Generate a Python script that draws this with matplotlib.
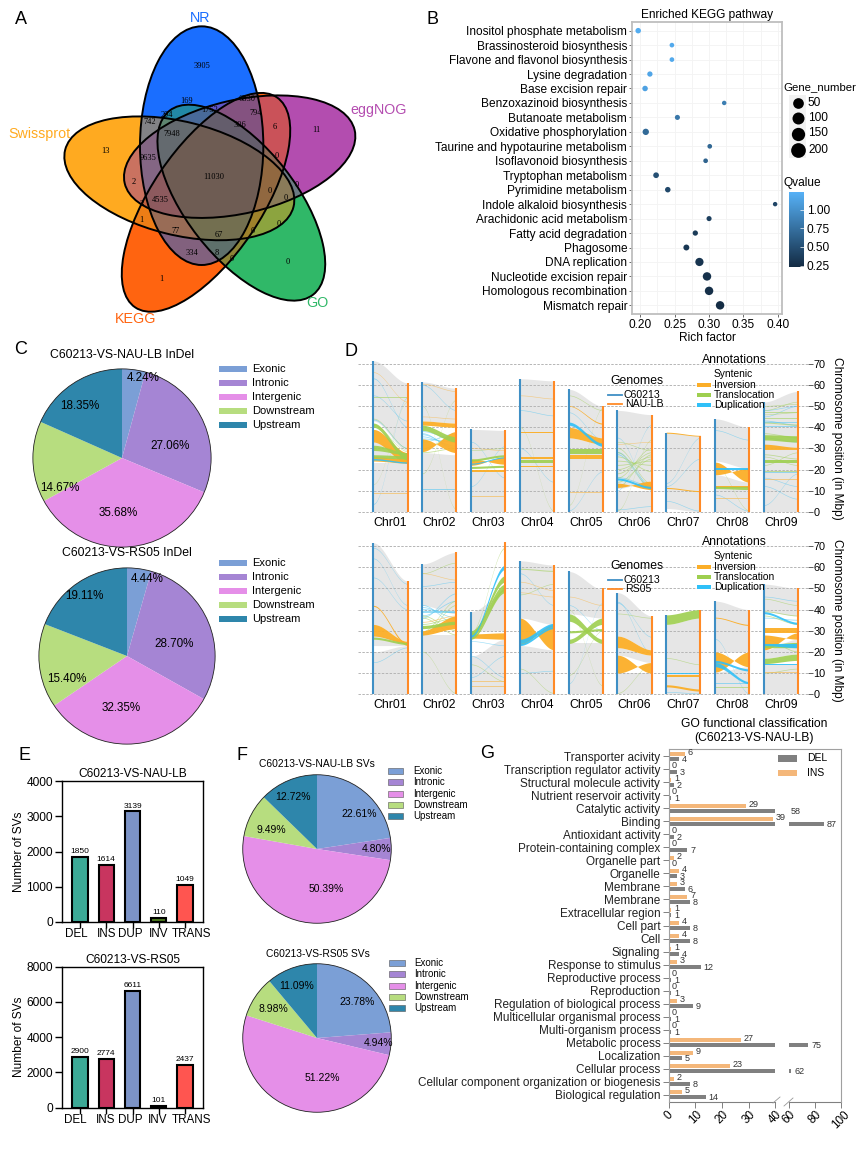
import numpy as np
import matplotlib
matplotlib.use('Agg')
from matplotlib import pyplot as plt
from matplotlib.colors import LinearSegmentedColormap, Normalize, to_rgb
from matplotlib.cm import ScalarMappable
from matplotlib.patches import Ellipse, Rectangle

plt.rcParams['font.family'] = ['Liberation Sans', 'DejaVu Sans']

W, H = 867, 1149

# panel A
venn_sets = ['NR', 'eggNOG', 'GO', 'KEGG', 'Swissprot']
venn_colors = ['#1A6EFF', '#B44DB0', '#30B868', '#FF6410', '#FFAA20']
venn_shape = [(605, 437, 358, 185, 90), (719, 470, 354, 170, -13), (724, 608, 350, 165, 52),
              (618, 607, 380, 165, -56), (538, 535, 353, 170, 14)]
venn_name_xy = [(200, 18), (379, 110), (317, 303), (136, 319), (39, 134)]
venn_counts = [3905, 6830, 11, 169, 1752, 794, 294, 742, 6, 306, 7948, 13, 0, 9635, 11030, 2, 0, 0, 0,
               4535, 3, 1, 0, 77, 0, 67, 334, 8, 0, 0, 1]
venn_count_xy = [(605, 197), (740, 296), (948, 390), (561, 302), (630, 330), (767, 338), (500, 346),
                 (449, 365), (824, 380), (720, 376), (516, 401), (315, 454), (830, 467), (446, 474),
                 (640, 531), (400, 546), (889, 555), (809, 573), (857, 593), (480, 601), (425, 611),
                 (425, 660), (835, 671), (527, 694), (759, 694), (655, 706), (577, 759), (651, 759),
                 (695, 778), (864, 786), (485, 838)]

# panel B
pathways = ['Inositol phosphate metabolism', 'Brassinosteroid biosynthesis', 'Flavone and flavonol biosynthesis',
            'Lysine degradation', 'Base excision repair', 'Benzoxazinoid biosynthesis', 'Butanoate metabolism',
            'Oxidative phosphorylation', 'Taurine and hypotaurine metabolism', 'Isoflavonoid biosynthesis',
            'Tryptophan metabolism', 'Pyrimidine metabolism', 'Indole alkaloid biosynthesis',
            'Arachidonic acid metabolism', 'Fatty acid degradation', 'Phagosome', 'DNA replication',
            'Nucleotide excision repair', 'Homologous recombination', 'Mismatch repair']
rich_factor = [.197, .246, .246, .214, .207, .322, .254, .208, .301, .295, .223, .240, .396, .300, .280, .267,
               .286, .297, .300, .316]
gene_number = [55, 35, 35, 50, 55, 30, 45, 75, 35, 35, 60, 55, 30, 45, 50, 65, 120, 125, 125, 125]
qvalue = [1.2, 1.18, 1.18, 1.15, 1.12, .85, .8, .7, .68, .65, .5, .45, .43, .38, .35, .32, .3, .28, .26, .24]
gene_legend = [50, 100, 150, 200]

# pies, panels C and F
regions = ['Exonic', 'Intronic', 'Intergenic', 'Downstream', 'Upstream']
region_colors = ['#7B9FD6', '#A585D4', '#E58FE8', '#B7DD7F', '#2E86AB']
indel_nau = [4.24, 27.06, 35.68, 14.67, 18.35]
indel_rs05 = [4.44, 28.70, 32.35, 15.40, 19.11]
sv_nau = [22.61, 4.80, 50.39, 9.49, 12.72]
sv_rs05 = [23.78, 4.94, 51.22, 8.98, 11.09]

# panel D, ribbons are (chromosome, left start, left end, right start, right end) in Mbp
chroms = ['Chr01', 'Chr02', 'Chr03', 'Chr04', 'Chr05', 'Chr06', 'Chr07', 'Chr08', 'Chr09']
len_c60213 = [71.5, 61.5, 39, 63, 58, 48, 37.5, 44, 52]
len_nau = [61, 58.5, 38.5, 62, 50, 46, 36, 40, 57]
len_rs05 = [53.5, 67, 72, 61, 50, 37, 40, 40, 50]

syn_nau = [(0, 0, 23, 0, 23), (0, 25, 33, 23, 28), (0, 43, 71.5, 29, 61), (1, 0, 28, 0, 27), (1, 43, 61.5, 42, 58.5),
           (2, 0, 20, 0, 19), (2, 25, 39, 26, 38.5), (3, 0, 63, 0, 62), (4, 0, 25, 0, 25), (4, 27, 35, 27, 32),
           (4, 40, 58, 35, 50), (5, 0, 10, 0, 10), (5, 11, 48, 14.5, 46), (6, 1.5, 37.5, 0, 36),
           (7, 0, 17.5, 0, 14), (7, 24, 44, 20.5, 40), (8, 0, 52, 0, 57)]
inv_nau = [(0, 33, 39, 23, 28), (0, 24, 26, 23, 25), (1, 28.5, 34.5, 38, 28), (1, 41, 43, 40, 42),
           (2, 22, 25, 26, 22.5), (2, 19, 20, 19, 20), (3, 25, 26, 25, 26), (3, 37.4, 37.8, 37.4, 37.8),
           (3, 21, 21.5, 21, 21.5), (4, 35, 40, 32, 35), (4, 50, 50.3, 41.5, 42), (4, 25, 27, 25, 27),
           (5, 11.5, 13.5, 14.5, 10.5), (6, 11, 11.5, 9.5, 10), (6, 37.2, 37.7, 35.8, 36.2),
           (7, 17.5, 23.5, 20.5, 14), (7, 11, 12, 11, 12), (7, 2, 2.3, 2, 2.3), (8, 29.5, 32, 29.5, 30.5)]
trans_nau = [(0, 40, 42, 24.5, 27), (0, 29, 31.5, 27, 28), (0, 25.5, 27, 25, 26.5), (1, 38.5, 41, 33, 35.5),
             (2, 20.5, 21.5, 21, 22), (2, 24, 25, 26, 27), (3, 23, 24.5, 23, 24.5),
             (4, 27.5, 29.5, 27.5, 29.5), (7, 11, 12, 10.5, 12), (8, 34, 36.5, 33, 36),
             (8, 23, 24.5, 23, 24.5)]
dup_nau = [(0, 24.5, 25.2, 23, 23.6), (2, 22.5, 23, 25.5, 26), (4, 41, 42.5, 31, 32.5), (5, 15, 16, 11, 12),
           (7, 19.6, 20.5, 19.6, 20.5)]
thin_dup_nau = [(0, 3.5, 3.9, 54, 54.4), (0, 63, 63.4, 40, 40.4), (0, 55, 55.3, 43, 43.3), (0, 43.5, 43.9, 30, 30.4),
                (1, 60, 60.3, 48, 48.3), (1, 10.5, 10.8, 10.5, 10.8), (1, 37, 37.4, 29, 29.4), (1, 36.5, 36.9, 30, 30.4),
                (1, 35.5, 35.9, 31, 31.4), (1, 34.5, 34.9, 33, 33.4), (1, 38, 38.4, 34, 34.4), (1, 33, 33.4, 37, 37.4),
                (2, 33, 33.3, 16, 16.3), (2, 12, 12.3, 31, 31.3), (3, 48, 48.3, 45.5, 45.8), (3, 30, 30.3, 14, 14.3),
                (4, 0.5, 0.8, 19, 19.3), (4, 47, 47.3, 34, 34.3), (5, 35, 35.3, 10, 10.3), (5, 1, 1.3, 2.5, 2.8),
                (5, 10, 10.3, 41, 41.3), (5, 27, 27.5, 11, 11.5), (5, 28, 28.5, 12, 12.5), (5, 16.2, 16.6, 12.2, 12.6),
                (6, 13.5, 13.8, 35, 35.3), (6, 5, 5.3, 0.3, 0.6), (6, 12, 12.3, 25, 25.3), (7, 38.5, 38.8, 34, 34.3),
                (7, 8, 8.3, 0.3, 0.6), (8, 12, 12.3, 6, 6.3), (8, 3, 3.3, 18, 18.3), (8, 48, 48.3, 50, 50.3),
                (8, 40, 40.4, 40, 40.4), (8, 42, 42.4, 42, 42.4), (8, 43, 43.4, 41, 41.4), (8, 18.2, 18.7, 18.2, 18.7),
                (8, 45, 45.3, 50, 50.3), (8, 35, 35.4, 33, 33.4), (8, 16, 16.3, 12, 12.3)]
thin_trans_nau = [(0, 13, 13.2, 52, 52.2), (0, 54, 54.3, 54, 54.3), (0, 44, 44.3, 30, 30.3), (0, 41, 41.3, 28.5, 28.8),
                  (1, 18, 18.3, 53, 53.3), (1, 50, 50.3, 1, 1.3), (1, 30, 30.4, 36, 36.4), (1, 28, 28.4, 30, 30.4),
                  (2, 29, 29.3, 30, 30.3), (3, 40, 40.3, 0.3, 0.6), (4, 3, 3.3, 49, 49.3), (4, 55, 55.3, 48, 48.3),
                  (5, 0.5, 0.8, 34, 34.3), (5, 33, 33.3, 29, 29.3), (5, 16, 16.4, 30, 30.4), (5, 18, 18.4, 28, 28.4),
                  (5, 20, 20.4, 26, 26.4), (5, 22, 22.4, 24, 24.4), (5, 24, 24.4, 22, 22.4), (5, 26, 26.4, 19, 19.4),
                  (5, 14, 14.4, 25, 25.4), (5, 28, 28.4, 11, 11.4), (5, 30, 30.4, 13, 13.4), (5, 12, 12.4, 27, 27.4),
                  (7, 22, 22.3, 0.5, 0.8), (8, 47, 47.3, 47, 47.3), (8, 26, 26.3, 22, 22.3), (8, 22, 22.3, 28, 28.3),
                  (8, 42, 42.5, 41, 41.5), (8, 44, 44.4, 44, 44.4), (8, 46, 46.3, 47, 47.3), (8, 50, 50.3, 51, 51.3),
                  (8, 48, 48.3, 52, 52.3), (8, 37, 37.4, 35, 35.4), (8, 19, 19.4, 19, 19.4), (8, 27, 27.4, 25, 25.4)]
thin_inv_nau = [(0, 66, 66.3, 52, 52.3), (0, 8.5, 8.9, 8.5, 8.9), (1, 45, 45.3, 44, 44.3), (1, 60.5, 60.8, 57, 57.3),
                (2, 30, 30.3, 29, 29.3), (2, 7, 7.3, 7, 7.3), (3, 55, 55.3, 53.5, 53.8), (4, 9, 9.3, 9, 9.3),
                (5, 32, 32.3, 33, 33.3), (7, 6, 6.3, 6, 6.3), (8, 15, 15.3, 15, 15.3), (8, 5, 5.3, 5, 5.3)]

syn_rs05 = [(0, 0, 20, 0, 23), (0, 23, 28, 23, 25), (0, 33, 71.5, 25, 53.5), (1, 0, 28, 0, 28), (1, 42, 61.5, 38, 67),
            (2, 0, 18, 0, 26), (2, 30, 39, 30, 48), (3, 0, 23, 0, 21), (3, 36, 63, 33, 61), (4, 0, 24, 0, 24),
            (4, 38, 58, 36, 49.5), (5, 0, 10, 0, 10), (5, 27.5, 48, 21, 37), (5, 18.5, 22, 15, 18.5),
            (6, 0, 33, 0, 36), (7, 0, 10.5, 0, 13), (7, 20, 44, 20, 40), (8, 0, 14, 0, 14), (8, 39, 52, 37, 50),
            (8, 17, 21, 19, 26)]
inv_rs05 = [(0, 27.5, 33, 24, 25), (0, 41.5, 42, 23, 24), (1, 28, 30, 31, 37), (2, 26.5, 28.5, 26, 29),
            (3, 23.5, 36, 33, 21), (5, 22, 27.5, 18.5, 21), (5, 10, 18.5, 15, 10), (6, 3.5, 4.5, 1.5, 2.5),
            (6, 8, 9, 8, 9), (7, 10.5, 20, 20, 13), (7, 36, 36.4, 32.5, 33), (8, 21, 28, 29, 26),
            (8, 29, 31.5, 29, 31.5)]
trans_rs05 = [(0, 26, 27, 23.5, 24.5), (1, 31, 32.5, 33, 34.5), (2, 27, 30, 49, 52), (2, 26, 27, 48, 50),
              (2, 28, 29, 53, 56), (4, 34.5, 38, 24, 26), (4, 24, 26, 33, 36), (4, 29, 30, 30, 31),
              (6, 33, 37.5, 36, 40), (8, 14.5, 17, 16, 19), (8, 22, 23.5, 22, 24.5)]
dup_rs05 = [(2, 27, 28, 59, 61), (3, 24, 26, 32, 33.5), (3, 23, 24, 31, 32), (7, 13, 15, 5, 6), (7, 15, 16, 11, 12),
            (6, 9.5, 10, 9.5, 10), (8, 23, 24, 22, 24), (8, 14, 14.5, 14, 14.5), (8, 38, 39, 33, 34)]
thin_dup_rs05 = [(0, 69, 69.3, 52, 52.3), (0, 64, 64.3, 42, 42.3), (0, 55, 55.3, 40, 40.3), (0, 15, 15.3, 22, 22.3),
                 (1, 51, 51.3, 53, 53.3), (1, 40, 40.4, 38.5, 38.9), (1, 41, 41.4, 36, 36.4), (1, 39, 39.4, 39, 39.4),
                 (1, 42, 42.4, 33, 33.4), (1, 37, 37.4, 44, 44.4), (1, 36, 36.4, 47.5, 47.9), (1, 38.5, 38.9, 38.5, 38.9),
                 (2, 8, 8.3, 18, 18.3), (2, 18, 18.3, 8, 8.3), (2, 25, 25.3, 23, 23.3), (3, 57, 57.3, 42, 42.3),
                 (3, 10, 10.3, 11, 11.3), (4, 42, 42.3, 30, 30.3), (4, 5, 5.3, 43, 43.3), (5, 43, 43.3, 27, 27.3),
                 (5, 43.5, 43.9, 19, 19.4), (6, 1, 1.3, 0.3, 0.6), (7, 26, 26.3, 0.3, 0.6), (7, 5, 5.3, 5, 5.3),
                 (8, 46, 46.3, 44, 44.3), (8, 36, 36.4, 35, 35.4)]
thin_trans_rs05 = [(0, 8.5, 8.7, 8.5, 8.7), (1, 20, 20.3, 0.4, 0.7), (1, 57, 57.3, 62, 62.3), (1, 36, 36.4, 28, 28.4),
                   (1, 37, 37.4, 30, 30.4), (1, 28, 28.4, 42, 42.4), (1, 29.5, 29.9, 44, 44.4), (1, 33, 33.4, 36, 36.4),
                   (2, 14, 14.3, 6, 6.3), (2, 29, 29.5, 69, 69.5), (3, 12, 12.3, 0.5, 0.8), (3, 47, 47.3, 52, 52.3),
                   (3, 59, 59.5, 58, 58.5), (4, 40, 40.3, 4, 4.3), (4, 9, 9.3, 30, 30.3), (5, 0.5, 0.8, 14, 14.3),
                   (5, 38, 38.3, 36, 36.3), (6, 17, 17.3, 14, 14.3), (7, 3, 3.3, 3, 3.3), (8, 10, 10.3, 12, 12.3),
                   (8, 45, 45.3, 42, 42.3), (8, 37, 37.4, 33, 33.4), (8, 39, 39.4, 37, 37.4), (8, 26, 26.4, 20, 20.4)]
thin_inv_rs05 = [(1, 57, 57.3, 54, 54.3), (2, 6, 6.3, 6, 6.3), (2, 3.5, 3.8, 3.5, 3.8), (3, 48, 48.3, 46, 46.3),
                 (3, 53, 53.3, 49, 49.3), (4, 46, 46.3, 42, 42.3), (8, 10, 10.3, 10, 10.3), (1, 34, 34.4, 37, 37.4)]

# panel E
sv_types = ['DEL', 'INS', 'DUP', 'INV', 'TRANS']
sv_colors = ['#3CA996', '#C8355F', '#7C93C6', '#4D7A1E', '#FF5550']
sv_count_nau = [1850, 1614, 3139, 110, 1049]
sv_count_rs05 = [2900, 2774, 6611, 101, 2437]

# panel G
go_terms = ['Transporter acivity', 'Transcription regulator activity', 'Structural molecule activity',
            'Nutrient reservoir activity', 'Catalytic activity', 'Binding', 'Antioxidant activity',
            'Protein-containing complex', 'Organelle part', 'Organelle', 'Membrane', 'Membrane',
            'Extracellular region', 'Cell part', 'Cell', 'Signaling', 'Response to stimulus',
            'Reproductive process', 'Reproduction', 'Regulation of biological process',
            'Multicellular organismal process', 'Multi-organism process', 'Metabolic process', 'Localization',
            'Cellular process', 'Cellular component organization or biogenesis', 'Biological regulation']
go_ins = [6, 0, 1, 0, 29, 39, 0, 0, 2, 4, 3, 7, 1, 4, 4, 1, 3, 0, 0, 3, 0, 0, 27, 9, 23, 2, 5]
go_del = [4, 3, 2, 1, 58, 87, 2, 7, 0, 3, 6, 8, 1, 8, 8, 4, 12, 1, 1, 9, 1, 1, 75, 5, 62, 8, 14]
go_ticks = [0, 10, 20, 30, 40, 60, 80, 100]


def axpx(fig, left, top, right, bottom):
    return fig.add_axes([left / W, 1 - bottom / H, (right - left) / W, (bottom - top) / H])


fig = plt.figure(figsize=(W / 100, H / 100), dpi=100)
over = axpx(fig, 0, 0, W, H)
over.set_xlim(0, W)
over.set_ylim(H, 0)
over.axis('off')
over.set_zorder(10)
over.patch.set_alpha(0)

for letter, x, y in [('A', 21, 19), ('B', 433, 20), ('C', 21, 350), ('D', 351, 352), ('E', 24, 755),
                     ('F', 242, 755), ('G', 487, 754)]:
    over.text(x, y, letter, fontsize=13, ha='center', va='center')

# A: venn, each overlap gets the darkened mean of its sets
venn = axpx(fig, 0, 0, 420, 340)
gx, gy = np.meshgrid(np.arange(0, 420, 1 / 3), np.arange(0, 340, 1 / 3))
total = np.zeros(gx.shape + (3,))
count = np.zeros(gx.shape)
for (cx, cy, a, b, ang), c in zip(venn_shape, venn_colors):
    t = np.radians(ang)
    u = (gx - cx / 3) * np.cos(t) + (gy - cy / 3) * np.sin(t)
    v = -(gx - cx / 3) * np.sin(t) + (gy - cy / 3) * np.cos(t)
    inside = (u / (a / 3)) ** 2 + (v / (b / 3)) ** 2 <= 1
    total[inside] += to_rgb(c)
    count[inside] += 1
shade = np.ones(gx.shape + (3,))
hit = count > 0
shade[hit] = total[hit] / count[hit][:, None] * (1 - 0.07 * (count[hit][:, None] - 1))
venn.imshow(shade, extent=(0, 420, 340, 0), interpolation='antialiased', aspect='auto')
venn.set_xlim(0, 420)
venn.set_ylim(340, 0)
venn.axis('off')
for cx, cy, a, b, ang in venn_shape:
    venn.add_patch(Ellipse((cx / 3, cy / 3), 2 * a / 3, 2 * b / 3, angle=ang, fc='none', ec='k', lw=1.4))
for name, (x, y), c in zip(venn_sets, venn_name_xy, venn_colors):
    over.text(x, y, name, color=c, fontsize=10.3, ha='center', va='center')
for n, (x, y) in zip(venn_counts, venn_count_xy):
    venn.text(x / 3, y / 3, str(n), fontsize=6, ha='center', va='center', family='Liberation Serif')

# B: bubble plot
cmap = LinearSegmentedColormap.from_list('q', ['#132B43', '#56B1F7'])
qnorm = Normalize(0.23, 1.24)
axb = axpx(fig, 632, 22, 782, 314)
ypos = np.arange(len(pathways))
dot_px = 3.2 + 0.042 * np.array(gene_number)
axb.scatter(rich_factor, ypos, s=(dot_px * 0.72) ** 2, c=qvalue, cmap=cmap, norm=qnorm, linewidths=0, zorder=3)
axb.set_xlim(0.188, 0.406)
axb.set_ylim(len(pathways) - 0.4, -0.6)
axb.set_yticks(ypos)
axb.set_yticklabels(pathways, fontsize=8.6)
axb.set_xticks([0.2, 0.25, 0.3, 0.35, 0.4])
axb.set_xticklabels(['0.20', '0.25', '0.30', '0.35', '0.40'], fontsize=8.6)
axb.set_xticks([0.225, 0.275, 0.325, 0.375], minor=True)
axb.grid(True, which='both', color='#F3F3F3', lw=0.6)
axb.set_axisbelow(True)
axb.tick_params(which='minor', length=0)
axb.tick_params(length=2, pad=1.5, color='#555555', width=0.6)
axb.set_xlabel('Rich factor', fontsize=8.6, labelpad=1)
axb.set_title('Enriched KEGG pathway', fontsize=8.6, pad=3)
for s in axb.spines.values():
    s.set_color('#BEBEBE')
    s.set_linewidth(1.3)

over.text(783, 87, 'Gene_number', fontsize=8.2, va='center')
over.add_patch(Rectangle((789, 95), 17, 63, fc='#F2F2F2', ec='none'))
for g, y, d in zip(gene_legend, [102.5, 118, 133.5, 150], [10.7, 12, 13.3, 14.7]):
    over.scatter([797.5], [y], s=(d * 0.72) ** 2, c='k', linewidths=0)
    over.text(808, y, str(g), fontsize=8.6, va='center')
over.text(783, 183, 'Qvalue', fontsize=8.6, va='center')
cax = axpx(fig, 789, 192, 804, 267)
cb = fig.colorbar(ScalarMappable(qnorm, cmap), cax=cax)
cb.set_ticks([0.25, 0.5, 0.75, 1.0])
cb.set_ticklabels(['0.25', '0.50', '0.75', '1.00'], fontsize=8.6)
cb.outline.set_visible(False)
cax.tick_params(length=3, direction='in', color='white', width=0.5, pad=2)


# C and F: pies
def draw_pie(values, cx, cy, r, label_xy, size):
    ax = axpx(fig, cx - r, cy - r, cx + r, cy + r)
    ax.pie(values, colors=region_colors, startangle=90, counterclock=False, radius=1, wedgeprops={'linewidth': 0})
    ax.set_xlim(-1.01, 1.01)
    ax.set_ylim(-1.01, 1.01)
    ax.add_patch(plt.Circle((0, 0), 1, fc='none', ec='#222222', lw=0.6))
    for v, (x, y) in zip(values, label_xy):
        over.text(x, y, '%.2f%%' % v, fontsize=size, ha='center', va='center')


def region_legend(x0, x1, xt, rows, size, edge):
    for name, c, y in zip(regions, region_colors, rows):
        over.add_patch(Rectangle((x0, y - 3), x1 - x0, 6, fc=c, ec=edge, lw=0.4))
        over.text(xt, y, name, fontsize=size, va='center')


draw_pie(indel_nau, 122, 458, 90, [(143, 378), (170, 446), (118, 513), (60, 488), (80, 406)], 8.4)
draw_pie(indel_rs05, 127, 656, 89, [(147, 579), (174, 644), (121, 708), (67, 679), (84, 596)], 8.4)
over.text(122, 355, 'C60213-VS-NAU-LB InDel', fontsize=8.8, ha='center', va='center')
over.text(127, 553, 'C60213-VS-RS05 InDel', fontsize=8.8, ha='center', va='center')
region_legend(219, 247, 252, [369, 383, 397, 411, 425], 8, 'none')
region_legend(219, 247, 252, [563, 577, 591, 605, 619], 8, 'none')

draw_pie(sv_nau, 317, 849, 75, [(359, 814), (377, 849), (326, 889), (271, 830), (293, 797)], 7.5)
draw_pie(sv_rs05, 317, 1038, 75, [(357, 1002), (378, 1043), (322, 1078), (273, 1009), (297, 986)], 7.5)
over.text(317, 764, 'C60213-VS-NAU-LB SVs', fontsize=7.4, ha='center', va='center')
over.text(318, 954, 'C60213-VS-RS05 SVs', fontsize=7.4, ha='center', va='center')
region_legend(388, 403, 413, [771, 782, 794, 805, 816], 7, '#555555')
region_legend(389, 405, 414, [963, 974, 986, 997, 1008], 7, '#555555')

# D: synteny
PITCH, GAP = 48.8, 0.704
sig = np.linspace(0, 1, 40)
smooth = sig * sig * (3 - 2 * sig)


def ribbons(ax, items, color, alpha, z):
    for chrom, a0, a1, b0, b1 in items:
        xs = chrom + GAP * sig
        ax.fill_between(xs, a0 + (b0 - a0) * smooth, a1 + (b1 - a1) * smooth, color=color, alpha=alpha,
                        lw=0, zorder=z)


def synteny(top, y0, y70, right_len, syn, inv, trans, dup, thin_dup, thin_trans, thin_inv):
    mb_px = (y0 - y70) / 70.0
    ax = axpx(fig, 358, top, 808, y0 + 1)
    ax.set_xlim((358 - 373.3) / PITCH, (808 - 373.3) / PITCH)
    ax.set_ylim(-1 / mb_px, (y0 - top) / mb_px)
    ribbons(ax, syn, '#E6E6E6', 1, 1)
    ax.hlines(np.arange(0, 71, 10), ax.get_xlim()[0], ax.get_xlim()[1], color='#B5B5B5', lw=0.7,
              linestyles=(0, (2.5, 1.5)), zorder=2)
    ribbons(ax, thin_dup, '#5CC8F2', 0.6, 3)
    ribbons(ax, thin_trans, '#A9D26A', 0.65, 3)
    ribbons(ax, thin_inv, '#F8B84A', 0.6, 3)
    ribbons(ax, inv, '#FBAE28', 0.95, 4)
    ribbons(ax, trans, '#9ECF4F', 0.9, 5)
    ribbons(ax, dup, '#2FC0F8', 0.9, 6)
    for i in range(len(chroms)):
        ax.plot([i, i], [0, len_c60213[i]], color='#3F8FC5', lw=1.5, solid_capstyle='butt', zorder=7)
        ax.plot([i + GAP, i + GAP], [0, right_len[i]], color='#FF8A26', lw=1.5, solid_capstyle='butt', zorder=7)
    ax.set_xticks(np.arange(len(chroms)) + GAP / 2)
    ax.set_xticklabels(chroms, fontsize=8.8)
    ax.tick_params(axis='x', length=0, pad=3)
    ax.yaxis.tick_right()
    ax.set_yticks(np.arange(0, 71, 10))
    ax.tick_params(axis='y', labelsize=7.8, length=3.5, width=0.6, pad=0.5, color='#444444')
    for s in ax.spines.values():
        s.set_visible(False)
    ax.patch.set_alpha(0)
    return ax


synteny(355, 511.7, 364, len_nau, syn_nau, inv_nau, trans_nau, dup_nau, thin_dup_nau, thin_trans_nau, thin_inv_nau)
synteny(538, 694.3, 546, len_rs05, syn_rs05, inv_rs05, trans_rs05, dup_rs05, thin_dup_rs05, thin_trans_rs05,
        thin_inv_rs05)
over.text(837, 438, 'Chromosome position (in Mbp)', fontsize=8.6, rotation=-90, ha='center', va='center')
over.text(837, 620, 'Chromosome position (in Mbp)', fontsize=8.6, rotation=-90, ha='center', va='center')

for base, other, off, title_y in [(345, 'NAU-LB', 0, 15), (530, 'RS05', -3, 12)]:
    over.text(637, base + 36, 'Genomes', fontsize=8.8, ha='center', va='center')
    over.plot([608, 622], [base + 50, base + 50], color='#3F8FC5', lw=1.3)
    over.plot([608, 622], [base + 59, base + 59], color='#FF8A26', lw=1.3)
    over.text(624, base + 50, 'C60213', fontsize=7.6, va='center')
    over.text(625, base + 59, other, fontsize=7.6, va='center')
    over.text(734, base + title_y, 'Annotations', fontsize=8.8, ha='center', va='center')
    over.text(714, base + 29 + off, 'Syntenic', fontsize=7.4, va='center')
    for name, c, y in [('Inversion', '#FBAE28', 40), ('Translocation', '#9ECF4F', 50), ('Duplication', '#2FC0F8', 60)]:
        over.add_patch(Rectangle((697, base + y + off - 2.2), 14, 4.4, fc=c, ec='none'))
        over.text(714, base + y + off, name, fontsize=7.4, va='center')


# E: bars
def sv_bars(top, bottom, counts, ymax, title, ticks, label_x):
    ax = axpx(fig, 62, top, 203, bottom)
    x = np.arange(5)
    ax.bar(x, counts, width=0.58, color=sv_colors, edgecolor='k', linewidth=1.5)
    for xi, c in zip(x, counts):
        ax.text(xi, c + ymax * 0.012, str(c), fontsize=6, ha='center', va='bottom')
    ax.set_xlim(-0.68, 4.68)
    ax.set_ylim(0, ymax)
    ax.set_yticks(ticks)
    ax.set_xticks(x)
    ax.set_xticklabels([])
    ax.tick_params(labelsize=8.6, width=1, length=5, pad=1.5)
    ax.tick_params(axis='x', length=4)
    ax.set_ylabel('Number of SVs', fontsize=8.6, labelpad=1)
    ax.set_title(title, fontsize=8.6, pad=3)
    for s in ax.spines.values():
        s.set_linewidth(1)
    for name, lx in zip(sv_types, label_x):
        over.text(lx, bottom + 12, name, fontsize=8.4, ha='center', va='center')


sv_bars(781, 922, sv_count_nau, 4000, 'C60213-VS-NAU-LB', [0, 1000, 2000, 3000, 4000], [76, 106.5, 130.5, 159, 192])
sv_bars(966.7, 1107.7, sv_count_rs05, 8000, 'C60213-VS-RS05', [0, 2000, 4000, 6000, 8000], [75, 106, 130, 158, 191])

# G: broken bar chart
brk_data = [0, 40, 60, 100]
brk_pos = [0, 40, 45, 64.6]
axg = axpx(fig, 668.7, 749.3, 841, 1101.7)
axg.set_xscale('function', functions=(lambda v: np.interp(v, brk_data, brk_pos),
                                      lambda v: np.interp(v, brk_pos, brk_data)))
rows = np.arange(len(go_terms))
BAR_H, BAR_OFF = 0.31, 0.19
axg.barh(rows - BAR_OFF, go_ins, height=BAR_H, color='#F4B77A')
axg.barh(rows + BAR_OFF, np.minimum(go_del, 40), height=BAR_H, color='#808080')
for r, v in zip(rows, go_del):
    if v > 60:
        axg.barh(r + BAR_OFF, v - 60, left=60, height=BAR_H, color='#808080')
for r, i, d in zip(rows, go_ins, go_del):
    axg.annotate(str(i), (i, r - BAR_OFF - 0.12), xytext=(2, 0), textcoords='offset points', fontsize=6.5,
                 va='center', color='#333333')
    axg.annotate(str(d), (d, r + BAR_OFF + 0.05), xytext=(2, 0), textcoords='offset points', fontsize=6.5,
                 va='center', color='#333333')
axg.set_xlim(0, 100)
axg.set_ylim(len(go_terms) - 0.45, -0.55)
axg.set_yticks(rows)
axg.set_yticklabels(go_terms, fontsize=8.5, color='#222222')
axg.set_xticks(go_ticks)
axg.set_xticklabels([str(t) for t in go_ticks], rotation=45, fontsize=8.4, ha='center')
axg.tick_params(color='#808080', width=0.7, length=4, pad=2)
axg.tick_params(axis='x', pad=1)
for name in ['top', 'left', 'right']:
    axg.spines[name].set_color('#A0A0A0')
    axg.spines[name].set_linewidth(0.8)
axg.spines['bottom'].set_visible(False)
trans_g = axg.get_xaxis_transform()
axg.plot([0, 40], [0, 0], color='#808080', lw=0.8, transform=trans_g, clip_on=False)
axg.plot([60, 100], [0, 0], color='#808080', lw=0.8, transform=trans_g, clip_on=False)
over.plot([773, 780], [1103, 1097], color='#999999', lw=0.6)
over.plot([784, 793], [1106, 1098], color='#999999', lw=0.6)
over.text(754, 724, 'GO functional classification', fontsize=8.7, ha='center', va='center')
over.text(754, 738, '(C60213-VS-NAU-LB)', fontsize=8.7, ha='center', va='center')
over.add_patch(Rectangle((778, 755), 19, 6.5, fc='#808080', ec='none'))
over.add_patch(Rectangle((778, 769.5), 19, 6.5, fc='#F4B77A', ec='none'))
over.text(807, 758, 'DEL', fontsize=7.5, va='center')
over.text(807, 773, 'INS', fontsize=7.5, va='center')

over.set_xlim(0, W)
over.set_ylim(H, 0)
fig.savefig('out.png', dpi=100)
